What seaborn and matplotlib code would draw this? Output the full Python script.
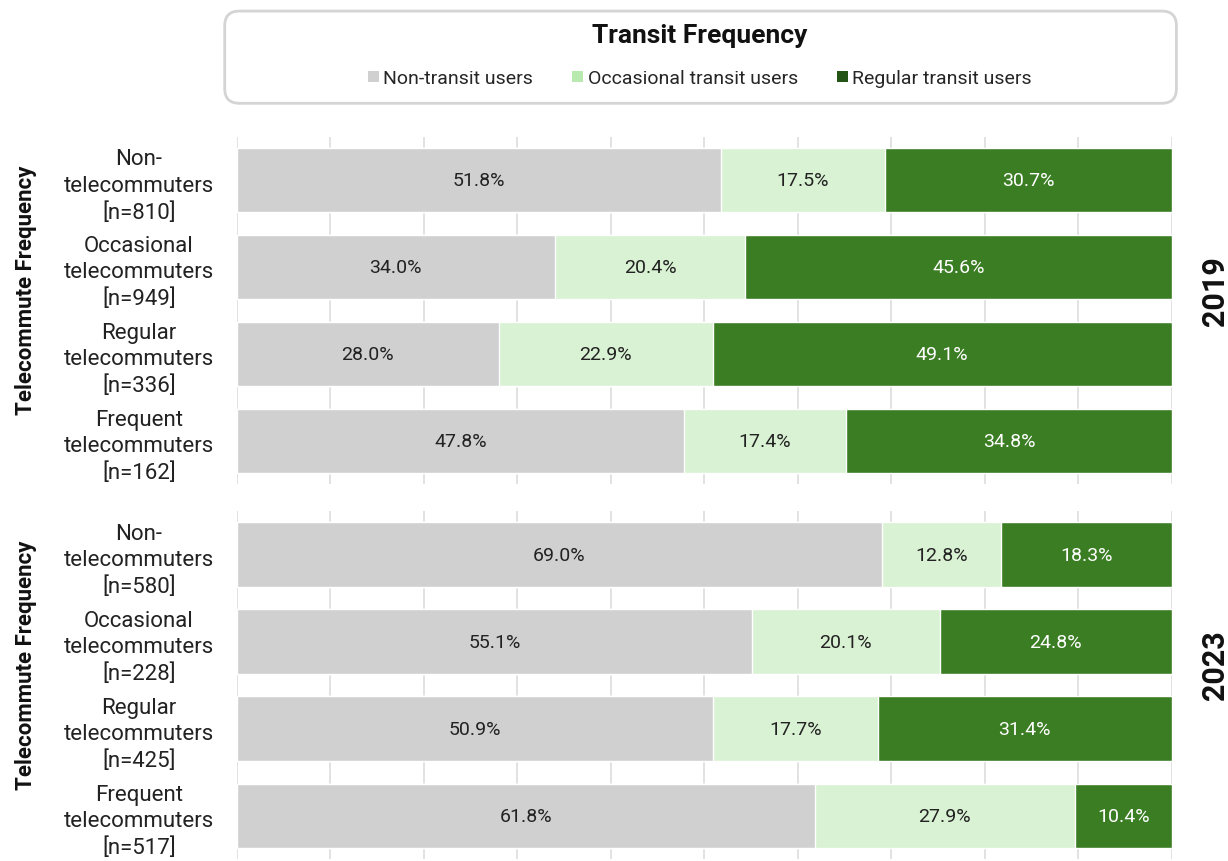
import matplotlib
matplotlib.use("Agg")
import matplotlib.pyplot as plt
import seaborn as sns
import pandas as pd
import numpy as np
from matplotlib.patches import FancyBboxPatch, Patch

sns.set_theme(style="white")
plt.rcParams['font.family'] = ['Roboto', 'DejaVu Sans']

categories = ["Non-\ntelecommuters", "Occasional\ntelecommuters",
              "Regular\ntelecommuters", "Frequent\ntelecommuters"]
years = ["2019", "2023"]
n_2019 = [810, 949, 336, 162]
n_2023 = [580, 228, 425, 517]
series = ["Non-transit users", "Occasional transit users", "Regular transit users"]
non_2019 = [51.8, 34.0, 28.0, 47.8]
occ_2019 = [17.5, 20.4, 22.9, 17.4]
reg_2019 = [30.7, 45.6, 49.1, 34.8]
non_2023 = [69.0, 55.1, 50.9, 61.8]
occ_2023 = [12.8, 20.1, 17.7, 27.9]
reg_2023 = [18.3, 24.8, 31.4, 10.4]

colors = ["#d0d0d0", "#d9f2d3", "#3b7d23"]
legend_colors = ["#d0d0d0", "#b8eab0", "#245316"]
text_colors = ["#222222", "#222222", "#ffffff"]

fig = plt.figure(figsize=(12.28, 8.62), dpi=100)
ax_positions = [[0.193, 0.437, 0.761, 0.403], [0.193, 0.002, 0.761, 0.404]]

panel_data = {
    "2019": (n_2019, [non_2019, occ_2019, reg_2019]),
    "2023": (n_2023, [non_2023, occ_2023, reg_2023]),
}

for pos, yr in zip(ax_positions, years):
    ax = fig.add_axes(pos)
    ns, vals = panel_data[yr]
    labels = [f"{c}\n[n={n}]" for c, n in zip(categories, ns)]
    cum = np.cumsum(np.array(vals), axis=0)
    for i in reversed(range(3)):
        df = pd.DataFrame({"label": labels, "value": cum[i]})
        sns.barplot(data=df, x="value", y="label", orient="h", color=colors[i],
                    width=0.74, saturation=1, ax=ax, zorder=2)
    for i in range(3):
        start = cum[i] - np.array(vals[i])
        for j, v in enumerate(vals[i]):
            ax.text(start[j] + v / 2, j, f"{v:.1f}%", ha="center", va="center",
                    fontsize=14, color=text_colors[i], zorder=3)
    ax.set_xlim(0, 100)
    ax.set_ylim(3.5, -0.5)
    ax.set_xticks(np.arange(0, 101, 10))
    ax.set_xticklabels([])
    ax.tick_params(axis="x", length=0)
    ax.tick_params(axis="y", length=0, labelsize=16, pad=10)
    for lab in ax.get_yticklabels():
        lab.set_horizontalalignment("center")
        lab.set_x(-0.09)
        lab.set_linespacing(1.32)
        lab.set_color("#222222")
    ax.grid(axis="x", color="#dddddd", linewidth=1.2, zorder=0)
    ax.set_axisbelow(True)
    for s in ax.spines.values():
        s.set_visible(False)
    ax.set_xlabel("")
    ax.set_ylabel("Telecommute Frequency", fontsize=16, fontweight="bold",
                  color="#111111")
    ax.yaxis.set_label_coords(-0.214, 0.56)
    ax.text(1.047, 0.56, yr, transform=ax.transAxes, rotation=90, ha="center",
            va="center", fontsize=22, fontweight="bold", color="#111111")

box = FancyBboxPatch((0.183, 0.879), 0.775, 0.107, transform=fig.transFigure,
                     boxstyle="round,pad=0,rounding_size=0.012",
                     facecolor="white", edgecolor="#d4d4d4", linewidth=2,
                     mutation_aspect=1.42)
fig.add_artist(box)
fig.text(0.57, 0.958, "Transit Frequency", ha="center", va="center",
         fontsize=19, fontweight="bold", color="#111111")
handles = [Patch(facecolor=c, edgecolor="none") for c in legend_colors]
fig.legend(handles, series, loc="center", bbox_to_anchor=(0.57, 0.908), ncol=3,
           frameon=False, fontsize=14, handlelength=0.55, handleheight=0.55,
           handletextpad=0.25, columnspacing=2.0)

fig.savefig("out.png", dpi=100)
